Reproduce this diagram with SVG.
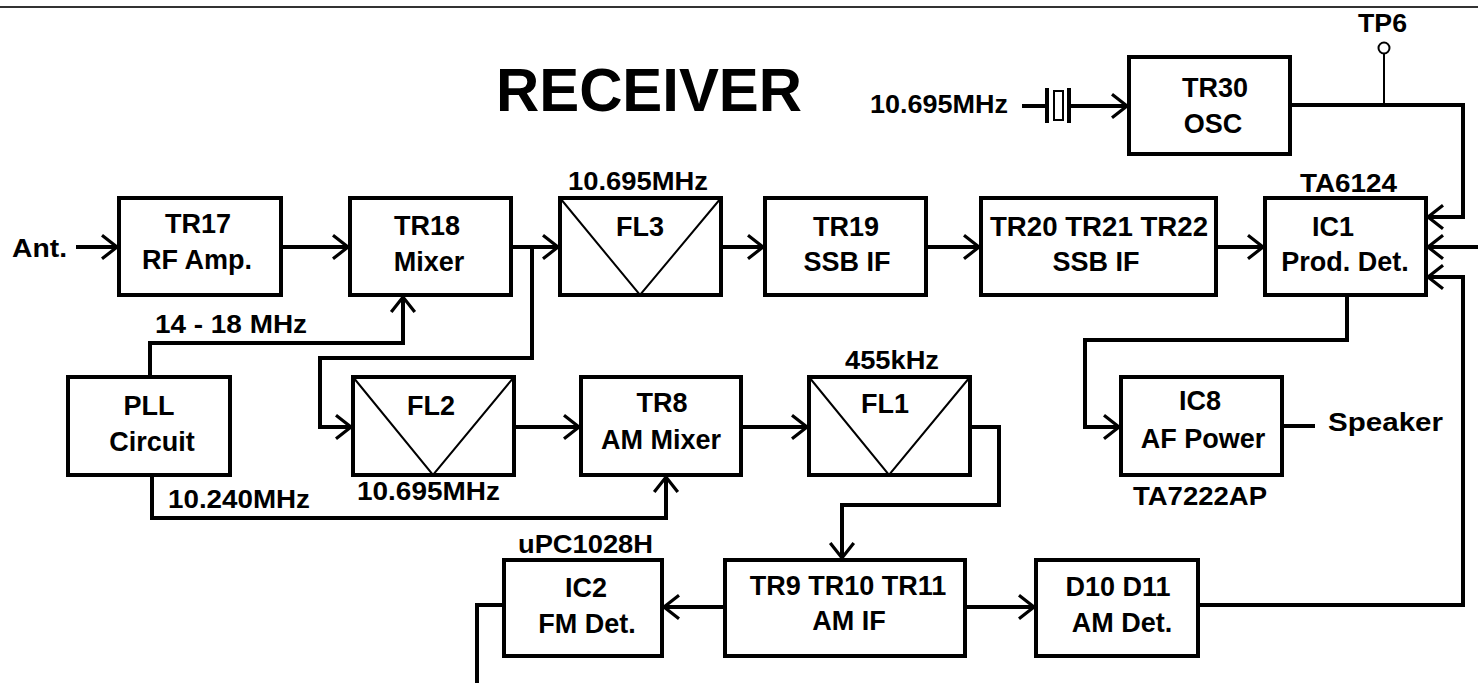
<svg xmlns="http://www.w3.org/2000/svg" width="1478" height="683" viewBox="0 0 1478 683">
<defs>
<marker id="ah" markerUnits="userSpaceOnUse" markerWidth="30" markerHeight="30" refX="0" refY="0" viewBox="-16 -14 18 28" orient="auto" overflow="visible">
<path d="M-14,-11 L0,0 L-14,11" fill="none" stroke="#000" stroke-width="3"/>
</marker>
</defs>
<style>
.box{fill:#fff;stroke:#000;stroke-width:4}
.v{fill:none;stroke:#000;stroke-width:2}
.c{fill:none;stroke:#000;stroke-width:4}
.a{marker-end:url(#ah)}
text{font-family:"Liberation Sans",Arial,sans-serif;font-weight:bold;fill:#000}
.t{font-size:27px;text-anchor:middle}
.s{font-size:25px}
.title{font-size:62px}
</style>
<rect width="1478" height="683" fill="#fff"/>
<line x1="0" y1="7" x2="1478" y2="7" stroke="#333" stroke-width="2"/>
<text class="title" x="496" y="111" textLength="306" lengthAdjust="spacingAndGlyphs">RECEIVER</text>

<g id="connectors">
<path class="c a" d="M76,247 H117"/>
<path class="c a" d="M283,247 H348"/>
<path class="c a" d="M513,247 H558"/>
<path class="c a" d="M532,247 V358 H320 V427 H351"/>
<path class="c a" d="M723,247 H763"/>
<path class="c a" d="M928,247 H979"/>
<path class="c a" d="M1218,247 H1263"/>
<path class="c a" d="M1292,105 H1463 V217 H1428"/>
<path class="c a" d="M1478,247 H1428"/>
<path class="c a" d="M1200,605 H1463 V277 H1428"/>
<path class="v" d="M1384,54 V105"/>
<path class="c a" d="M150,375 V343 H403 V297"/>
<path class="c a" d="M152,477 V518 H666 V477"/>
<path class="c a" d="M516,427 H579"/>
<path class="c a" d="M743,427 H807"/>
<path class="c a" d="M972,427 H999 V505 H842 V558"/>
<path class="c a" d="M723,607 H664"/>
<path class="c a" d="M967,607 H1034"/>
<path class="c a" d="M1347,297 V340 H1085 V427 H1119"/>
<path class="c" d="M1284,426 H1315"/>
<path class="c" d="M502,605 H477 V683"/>
<path class="c" d="M1022,106 H1046"/>
<path class="c a" d="M1070,106 H1127"/>
</g>

<g id="tp6">
<circle cx="1384" cy="48" r="5.5" fill="#fff" stroke="#000" stroke-width="2"/>
<text class="s" x="1358" y="32" font-size="23" textLength="49" lengthAdjust="spacingAndGlyphs">TP6</text>
</g>

<g id="crystal">
<line x1="1047" y1="88" x2="1047" y2="123" stroke="#000" stroke-width="4"/>
<rect x="1054" y="91" width="9" height="29" fill="#fff" stroke="#000" stroke-width="2"/>
<line x1="1069" y1="88" x2="1069" y2="123" stroke="#000" stroke-width="4"/>
<text class="s" x="870" y="113" textLength="138" lengthAdjust="spacingAndGlyphs">10.695MHz</text>
</g>

<g id="ant"><text class="s" x="12" y="257" font-size="27" textLength="55" lengthAdjust="spacingAndGlyphs">Ant.</text></g>

<g id="tr17"><rect class="box" x="119" y="198" width="162" height="97"/>
<text class="t" x="198" y="233">TR17</text><text class="t" x="197" y="269">RF Amp.</text></g>

<g id="tr18"><rect class="box" x="350" y="198" width="161" height="97"/>
<text class="t" x="427" y="235">TR18</text><text class="t" x="429" y="271">Mixer</text></g>

<g id="fl3"><rect class="box" x="560" y="198" width="161" height="97"/>
<path class="v" d="M560,198 L640,295 L721,198"/>
<text class="t" x="640" y="236">FL3</text>
<text class="s" x="568" y="190" textLength="140" lengthAdjust="spacingAndGlyphs">10.695MHz</text></g>

<g id="tr19"><rect class="box" x="765" y="198" width="161" height="97"/>
<text class="t" x="846" y="236">TR19</text><text class="t" x="847" y="271">SSB IF</text></g>

<g id="tr20"><rect class="box" x="981" y="198" width="235" height="97"/>
<text class="t" x="1099" y="236" textLength="218" lengthAdjust="spacingAndGlyphs">TR20 TR21 TR22</text><text class="t" x="1096" y="271">SSB IF</text></g>

<g id="ic1"><rect class="box" x="1265" y="198" width="161" height="97"/>
<text class="t" x="1333" y="236">IC1</text><text class="t" x="1345" y="271">Prod. Det.</text>
<text class="s" x="1300" y="192" font-size="27" textLength="97" lengthAdjust="spacingAndGlyphs">TA6124</text></g>

<g id="tr30"><rect class="box" x="1129" y="57" width="161" height="97"/>
<text class="t" x="1215" y="97">TR30</text><text class="t" x="1213" y="133">OSC</text></g>

<g id="pll"><rect class="box" x="68" y="377" width="162" height="98"/>
<text class="t" x="149" y="415">PLL</text><text class="t" x="152" y="451">Circuit</text>
<text class="s" x="155" y="333" textLength="152" lengthAdjust="spacingAndGlyphs">14 - 18 MHz</text>
<text class="s" x="168" y="508" textLength="142" lengthAdjust="spacingAndGlyphs">10.240MHz</text></g>

<g id="fl2"><rect class="box" x="353" y="377" width="161" height="98"/>
<path class="v" d="M353,377 L433,475 L514,377"/>
<text class="t" x="431" y="415">FL2</text>
<text class="s" x="357" y="500" textLength="143" lengthAdjust="spacingAndGlyphs">10.695MHz</text></g>

<g id="tr8"><rect class="box" x="581" y="377" width="160" height="98"/>
<text class="t" x="662" y="412">TR8</text><text class="t" x="661" y="449">AM Mixer</text></g>

<g id="fl1"><rect class="box" x="809" y="377" width="161" height="98"/>
<path class="v" d="M809,377 L889,475 L970,377"/>
<text class="t" x="885" y="413">FL1</text>
<text class="s" x="845" y="369" font-size="26" textLength="94" lengthAdjust="spacingAndGlyphs">455kHz</text></g>

<g id="ic8"><rect class="box" x="1121" y="377" width="161" height="98"/>
<text class="t" x="1200" y="410">IC8</text><text class="t" x="1203" y="448">AF Power</text>
<text class="s" x="1133" y="505" font-size="27" textLength="134" lengthAdjust="spacingAndGlyphs">TA7222AP</text></g>

<g id="speaker"><text class="s" x="1328" y="431" font-size="28" textLength="115" lengthAdjust="spacingAndGlyphs">Speaker</text></g>

<g id="ic2"><rect class="box" x="504" y="560" width="158" height="96"/>
<text class="t" x="586" y="597">IC2</text><text class="t" x="587" y="633">FM Det.</text>
<text class="s" x="518" y="553" font-size="26" textLength="135" lengthAdjust="spacingAndGlyphs">uPC1028H</text></g>

<g id="tr9"><rect class="box" x="725" y="560" width="240" height="96"/>
<text class="t" x="848" y="595">TR9 TR10 TR11</text><text class="t" x="849" y="630">AM IF</text></g>

<g id="d10"><rect class="box" x="1036" y="560" width="162" height="96"/>
<text class="t" x="1118" y="596">D10 D11</text><text class="t" x="1122" y="632">AM Det.</text></g>
</svg>
